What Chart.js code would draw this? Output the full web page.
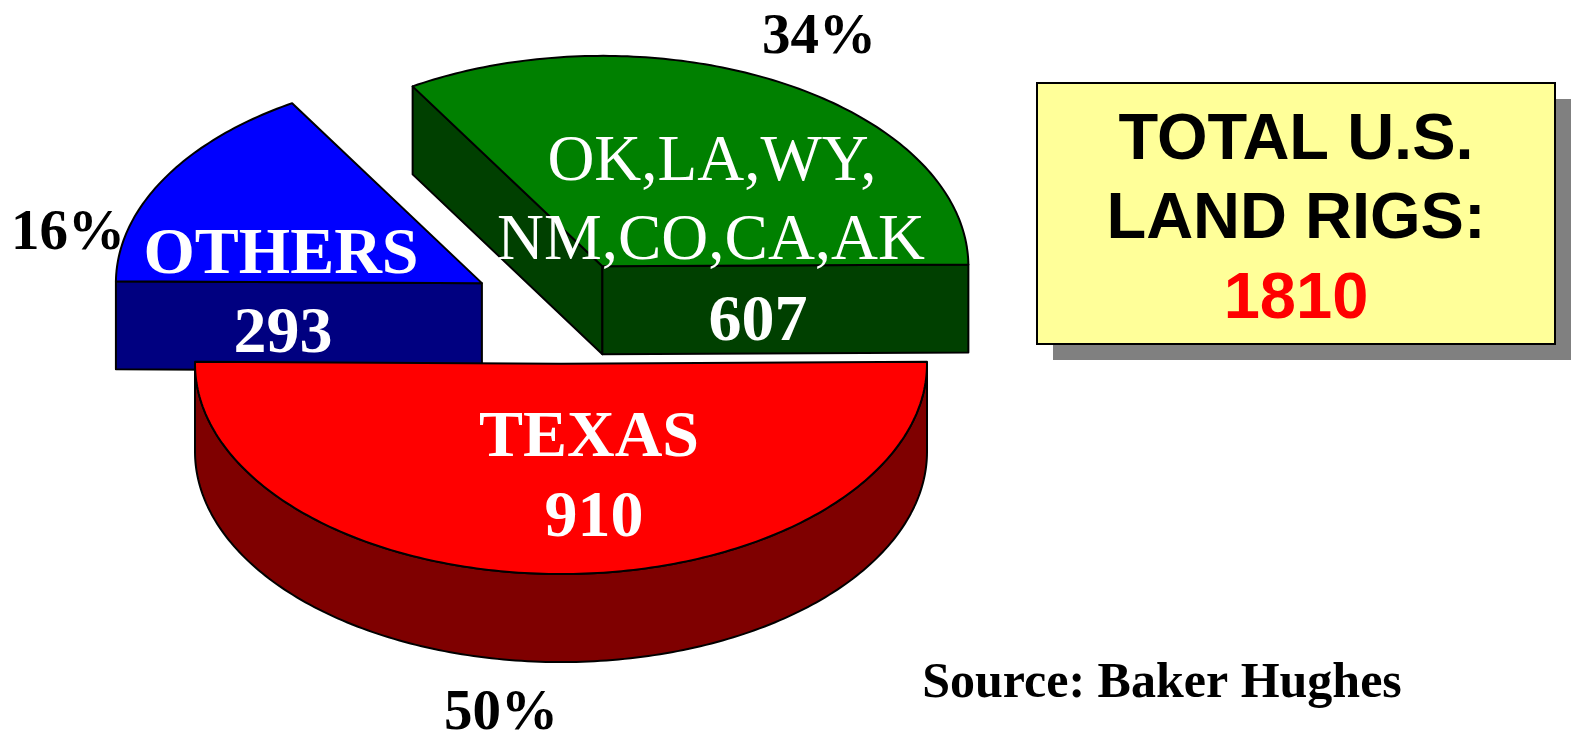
<!DOCTYPE html>
<html>
<head>
<meta charset="utf-8">
<title>Total U.S. Land Rigs</title>
<script src="https://cdn.jsdelivr.net/npm/chart.js@4.4.1/dist/chart.umd.min.js"></script>
<style>
  html, body { margin: 0; padding: 0; background: #fff; }
  #wrap { width: 1575px; height: 736px; }
</style>
</head>
<body>
<div id="wrap"><canvas id="rigs-chart" width="1575" height="736"></canvas></div>
<script>
// data
const regions = ['TEXAS', 'OTHERS', 'OK,LA,WY,NM,CO,CA,AK'];
const regionLines = [['TEXAS'], ['OTHERS'], ['OK,LA,WY,', 'NM,CO,CA,AK']];
const rigCounts = [910, 293, 607];
const sourceNote = 'Source: Baker Hughes';

// styles
const topColors = ['#ff0000', '#0000ff', '#008000'];
const sideColors = ['#7f0000', '#000080', '#004000'];
const SERIF = '"Liberation Serif", "Times New Roman", serif';
const SANS = '"Liberation Sans", Arial, sans-serif';

const DEPTH = 88;   // thickness of the pie, px
const TILT = 0.575; // vertical squash of the top face

const totalRigs = rigCounts.reduce((a, b) => a + b, 0);

function explodeOf(arc, chart, i) {
    const off = chart.data.datasets[0].explode[i];
    const mid = (arc.startAngle + arc.endAngle) / 2;
    return { ox: Math.cos(mid) * off, oy: Math.sin(mid) * off };
}

// point on a slice in screen space (r = 0 gives the apex)
function pt(arc, ex, theta, r, drop) {
    return [
        arc.x + ex.ox + r * Math.cos(theta),
        arc.y + TILT * (ex.oy + r * Math.sin(theta)) + drop
    ];
}

function arcPath(ctx, arc, ex, a1, a2, drop, first) {
    const steps = Math.max(8, Math.ceil(Math.abs(a2 - a1) * 60));
    for (let k = 0; k <= steps; k++) {
        const t = a1 + (a2 - a1) * k / steps;
        const p = pt(arc, ex, t, arc.outerRadius, drop);
        if (k === 0 && first) ctx.moveTo(p[0], p[1]);
        else ctx.lineTo(p[0], p[1]);
    }
}

function radialFace(ctx, arc, ex, theta, color) {
    const c0 = pt(arc, ex, theta, 0, 0);
    const r0 = pt(arc, ex, theta, arc.outerRadius, 0);
    ctx.beginPath();
    ctx.moveTo(c0[0], c0[1]);
    ctx.lineTo(r0[0], r0[1]);
    ctx.lineTo(r0[0], r0[1] + DEPTH);
    ctx.lineTo(c0[0], c0[1] + DEPTH);
    ctx.closePath();
    ctx.fillStyle = color;
    ctx.fill();
    ctx.stroke();
}

const pie3d = {
    id: 'pie3d',
    beforeDatasetsDraw(chart) {
        const ctx = chart.ctx;
        const arcs = chart.getDatasetMeta(0).data;
        const order = [2, 1, 0]; // back slices first, Texas in front
        ctx.save();
        ctx.lineWidth = 2;
        ctx.lineJoin = 'round';
        ctx.strokeStyle = '#000';
        order.forEach(i => {
            const arc = arcs[i];
            const ex = explodeOf(arc, chart, i);
            let s = arc.startAngle, e = arc.endAngle;
            if (s < -0.5) { s += 2 * Math.PI; e += 2 * Math.PI; }

            // outer wall, front half only
            const lo = Math.max(s, 0), hi = Math.min(e, Math.PI);
            if (hi > lo) {
                ctx.beginPath();
                arcPath(ctx, arc, ex, lo, hi, 0, true);
                arcPath(ctx, arc, ex, hi, lo, DEPTH, false);
                ctx.closePath();
                ctx.fillStyle = sideColors[i];
                ctx.fill();
                ctx.stroke();
            }
            // cut faces turned towards the viewer
            if (Math.cos(s) < 0) radialFace(ctx, arc, ex, s, sideColors[i]);
            if (Math.cos(e) > 0) radialFace(ctx, arc, ex, e, sideColors[i]);

            // top face, drawn by the arc element under a squashed transform
            ctx.save();
            ctx.translate(0, arc.y);
            ctx.scale(1, TILT);
            ctx.translate(ex.ox, ex.oy - arc.y);
            arc.draw(ctx);
            ctx.restore();

            // outline of the top face
            const c = pt(arc, ex, s, 0, 0);
            ctx.beginPath();
            ctx.moveTo(c[0], c[1]);
            arcPath(ctx, arc, ex, s, e, 0, false);
            ctx.closePath();
            ctx.stroke();
        });
        ctx.restore();
        return false;
    },
    afterDraw(chart) {
        const ctx = chart.ctx;
        ctx.save();
        ctx.textAlign = 'center';
        ctx.textBaseline = 'alphabetic';

        // names and counts on the slices
        ctx.fillStyle = '#fff';
        ctx.font = 'bold 66px ' + SERIF;
        ctx.fillText(regionLines[0][0], 589, 456);
        ctx.fillText(String(rigCounts[0]), 594, 536);
        ctx.fillText(regionLines[1][0], 281, 273);
        ctx.fillText(String(rigCounts[1]), 283, 352);
        ctx.font = '65px ' + SERIF;
        ctx.fillText(regionLines[2][0], 712, 180);
        ctx.fillText(regionLines[2][1], 711, 259);
        ctx.font = 'bold 66px ' + SERIF;
        ctx.fillText(String(rigCounts[2]), 758, 340);

        // shares
        const pct = v => Math.round(v / totalRigs * 100) + '%';
        ctx.fillStyle = '#000';
        ctx.font = 'bold 57px ' + SERIF;
        ctx.fillText(pct(rigCounts[2]), 819, 53);
        ctx.fillText(pct(rigCounts[1]), 68, 249);
        ctx.fillText(pct(rigCounts[0]), 501, 729);

        // total box with shadow
        const bx = 1037, by = 83, bw = 518, bh = 261;
        ctx.fillStyle = '#808080';
        ctx.fillRect(bx + 16, by + 16, bw, bh);
        ctx.fillStyle = '#ffff99';
        ctx.fillRect(bx, by, bw, bh);
        ctx.lineWidth = 2;
        ctx.strokeStyle = '#000';
        ctx.strokeRect(bx, by, bw, bh);
        ctx.font = 'bold 65px ' + SANS;
        ctx.fillStyle = '#000';
        ctx.fillText('TOTAL U.S.', bx + bw / 2, 159);
        ctx.fillText('LAND RIGS:', bx + bw / 2, 238);
        ctx.fillStyle = '#ff0000';
        ctx.fillText(String(totalRigs), bx + bw / 2, 318);

        // source
        ctx.fillStyle = '#000';
        ctx.font = 'bold 50px ' + SERIF;
        ctx.fillText(sourceNote, 1162, 697);
        ctx.restore();
    }
};

const ctx = document.getElementById('rigs-chart').getContext('2d');
const rigChart = new Chart(ctx, {
    type: 'pie',
    data: {
        labels: regions,
        datasets: [{
            data: rigCounts,
            backgroundColor: topColors,
            borderWidth: 0,
            explode: [95, 91, 85]
        }]
    },
    options: {
        responsive: false,
        animation: false,
        rotation: 89.5,
        radius: 366,
        layout: { padding: { left: 0, right: 453, top: 0, bottom: 118 } },
        events: [],
        plugins: {
            legend: { display: false },
            tooltip: { enabled: false }
        }
    },
    plugins: [pie3d]
});
</script>
</body>
</html>
